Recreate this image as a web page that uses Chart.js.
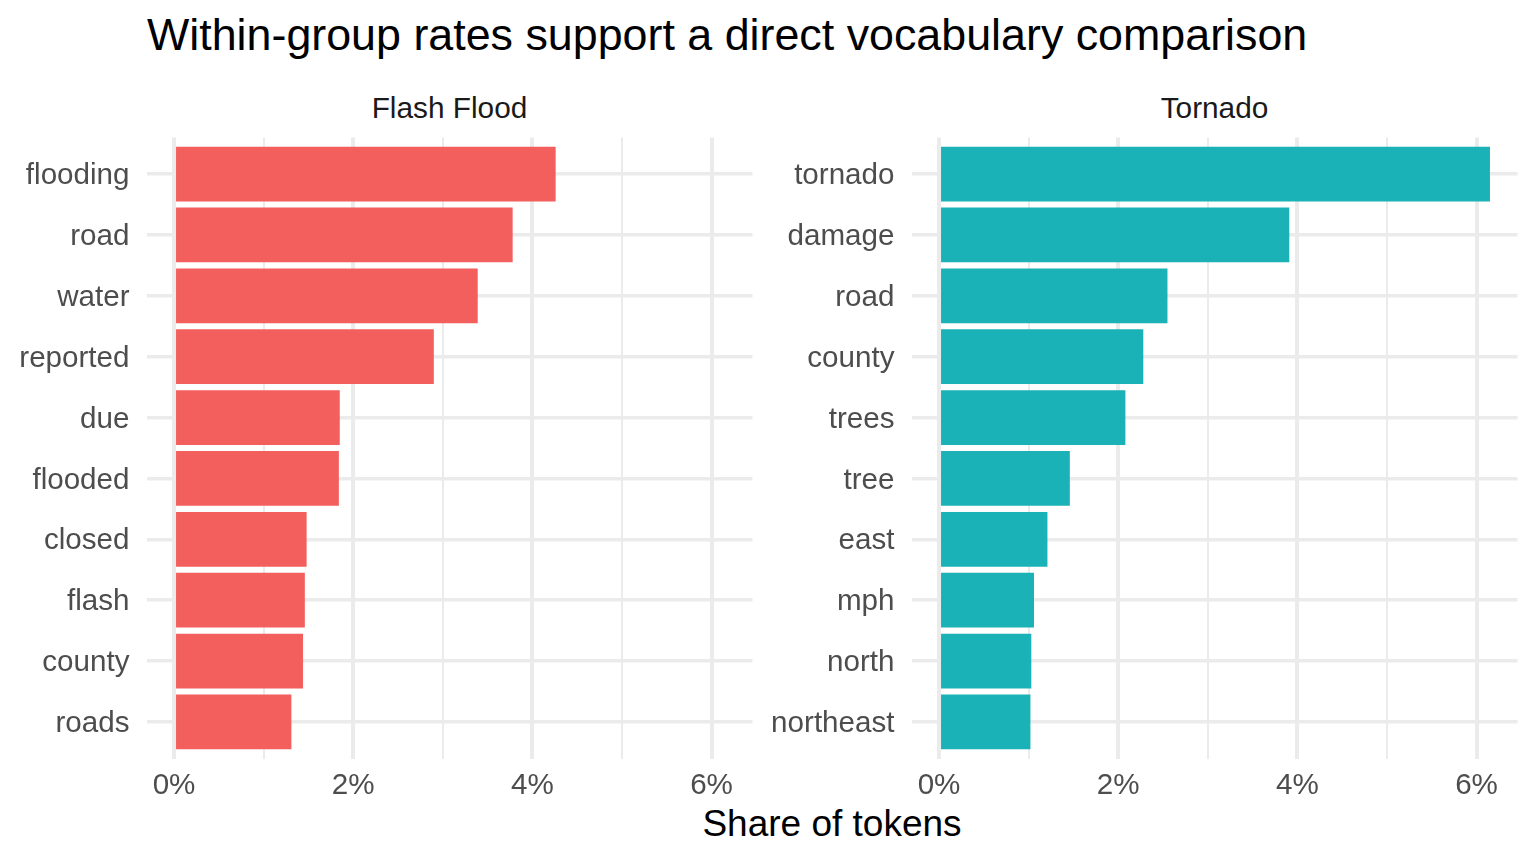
<!DOCTYPE html>
<html>
<head>
<meta charset="utf-8">
<script src="https://cdn.jsdelivr.net/npm/chart.js@4"></script>
<style>
  body { margin: 0; background: #fff; width: 1536px; height: 864px; position: relative; overflow: hidden;
         font-family: "Liberation Sans", Arial, sans-serif; }
  canvas { position: absolute; top: 0; }
  .txt { position: absolute; line-height: 1; white-space: nowrap; }
  #title { left: 147px; top: 12px; font-size: 44.8px; color: #000; }
  .strip { top: 92.9px; font-size: 29.8px; color: #1a1a1a; text-align: center; width: 606px; }
  #xtitle { left: 0; width: 1664px; top: 805.4px; font-size: 37px; color: #000; text-align: center; }
</style>
</head>
<body>
<div id="title" class="txt">Within-group rates support a direct vocabulary comparison</div>
<div class="txt strip" style="left:146.5px">Flash Flood</div>
<div class="txt strip" style="left:911.5px">Tornado</div>
<div id="xtitle" class="txt">Share of tokens</div>
<canvas id="flood" width="760" height="864" style="left:0px"></canvas>
<canvas id="tornado" width="776" height="864" style="left:760px"></canvas>
<script>
// words ranked by share of tokens within each event type (%)
const floodWords = ['flooding', 'road', 'water', 'reported', 'due', 'flooded', 'closed', 'flash', 'county', 'roads'];
const floodShare = [4.26, 3.78, 3.39, 2.90, 1.85, 1.84, 1.48, 1.46, 1.44, 1.31];

const tornadoWords = ['tornado', 'damage', 'road', 'county', 'trees', 'tree', 'east', 'mph', 'north', 'northeast'];
const tornadoShare = [6.15, 3.91, 2.55, 2.28, 2.08, 1.46, 1.21, 1.06, 1.03, 1.02];

const shareTicks = [0, 1, 2, 3, 4, 5, 6];

const FONT = '"Liberation Sans", Arial, sans-serif';
const topShare = Math.max(...floodShare, ...tornadoShare);

function makePanel(id, words, shares, color, axisWidth, padRight) {
  const ctx = document.getElementById(id);
  return new Chart(ctx, {
    type: 'bar',
    data: {
      datasets: [{
        data: shares.map((v, i) => ({ x: v, y: i })),
        backgroundColor: color,
        borderWidth: 0,
        barPercentage: 0.9,
        categoryPercentage: 1,
      }],
    },
    options: {
      indexAxis: 'y',
      responsive: false,
      animation: false,
      layout: { padding: { top: 137.5, right: padRight, left: 0, bottom: 0 } },
      plugins: {
        legend: { display: false },
        tooltip: { enabled: false },
      },
      scales: {
        x: {
          type: 'linear',
          bounds: 'data',
          min: -0.05 * topShare,
          max: 1.05 * topShare,
          afterBuildTicks: (axis) => { axis.ticks = shareTicks.map(v => ({ value: v })); },
          afterFit: (axis) => { axis.height = 105.5; },
          grid: {
            color: '#ebebeb',
            lineWidth: (c) => (c.tick && c.tick.value % 2 === 0 ? 4 : 2),
            drawTicks: false,
          },
          border: { display: false },
          ticks: {
            color: '#4d4d4d',
            font: { size: 29.6, family: FONT },
            padding: 10,
            maxRotation: 0,
            autoSkip: false,
            callback: (v) => (v % 2 === 0 ? v + '%' : ''),
          },
        },
        y: {
          type: 'linear',
          bounds: 'data',
          offset: false,
          reverse: true,
          min: -0.6,
          max: words.length - 0.4,
          afterBuildTicks: (axis) => { axis.ticks = words.map((w, i) => ({ value: i })); },
          afterFit: (axis) => { axis.width = axisWidth; },
          grid: { color: '#ebebeb', lineWidth: 3.5, drawTicks: false, offset: false },
          border: { display: false },
          ticks: {
            color: '#4d4d4d',
            font: { size: 29.6, family: FONT },
            padding: 17,
            labelOffset: 2,
            autoSkip: false,
            callback: (v) => words[v],
          },
        },
      },
    },
  });
}

makePanel('flood', floodWords, floodShare, '#F25F5C', 146.5, 7.5);
makePanel('tornado', tornadoWords, tornadoShare, '#1AB2B6', 151.5, 18.5);
</script>
</body>
</html>
